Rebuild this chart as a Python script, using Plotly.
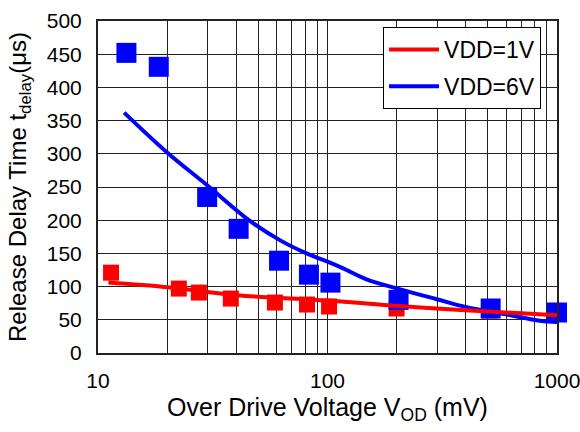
import plotly.graph_objects as go

# Measured data points
vod_6v = [13.3, 18.4, 29.9, 41, 61.5, 83, 103, 204, 514, 1000]
delay_6v = [452, 431, 235, 187, 139, 118, 106, 80, 67, 61]
vod_1v = [11.4, 22.5, 27.5, 37.9, 59, 81.4, 101.6, 200, 510, 1000]
delay_1v = [121, 97, 91, 82, 76, 73, 70, 67, 64, 60]

# Fitted curves
fit_x_6v = [13, 20, 29.9, 45.9, 62, 81, 100, 117, 148, 200, 299, 404, 604, 843, 1000]
fit_y_6v = [362, 302, 252.6, 199, 170, 150, 137.5, 127.5, 111, 97.4, 81, 69, 58, 48.6, 46.7]
fit_x_1v = [11.1, 20, 40.2, 100, 200, 365, 1000]
fit_y_1v = [106, 99, 87, 79, 71, 65, 57]

x_major = [10, 100, 1000]
x_minor = [20, 30, 40, 50, 60, 70, 80, 90, 200, 300, 400, 500, 600, 700, 800, 900]
y_ticks = list(range(0, 501, 50))

FONT = "Liberation Sans, Arial, sans-serif"

fig = go.Figure()
fig.add_trace(go.Scatter(x=vod_1v, y=delay_1v, mode="markers",
                         marker=dict(symbol="square", size=16, color="#ff0000"),
                         showlegend=False, cliponaxis=False))
fig.add_trace(go.Scatter(x=vod_6v, y=delay_6v, mode="markers",
                         marker=dict(symbol="square", size=20, color="#0000ff"),
                         showlegend=False, cliponaxis=False))
fig.add_trace(go.Scatter(x=fit_x_6v, y=fit_y_6v, mode="lines", name="VDD=6V",
                         line=dict(color="#0000ff", width=4, shape="spline"),
                         legendgroup="b", legendrank=2))
fig.add_trace(go.Scatter(x=fit_x_1v, y=fit_y_1v, mode="lines", name="VDD=1V",
                         line=dict(color="#ff0000", width=4, shape="spline"),
                         legendgroup="a", legendrank=1))

fig.update_layout(
    width=580, height=432,
    margin=dict(l=98, r=23, t=21, b=79),
    paper_bgcolor="white", plot_bgcolor="white",
    font=dict(family=FONT, size=21, color="black"),
    legend=dict(x=0.621, y=0.982, xanchor="left", yanchor="top",
                bgcolor="white", bordercolor="black", borderwidth=1,
                font=dict(size=23), tracegroupgap=4, itemwidth=50),
)
fig.update_xaxes(
    type="log", range=[1, 3], automargin=False,
    tickvals=x_major, ticktext=[str(v) for v in x_major],
    ticklabeloverflow="allow",
    showgrid=True, gridcolor="#222222", gridwidth=1,
    minor=dict(tickvals=x_minor, showgrid=True, gridcolor="#222222", gridwidth=1,
               ticks="inside", ticklen=4, tickcolor="#222222"),
    ticks="inside", ticklen=5, tickcolor="#222222",
    showline=True, linecolor="#222222", linewidth=2, mirror=True,
    ticklabelstandoff=8,
    title=dict(text="Over Drive Voltage V<sub>OD</sub> (mV)", font=dict(size=25), standoff=7),
    zeroline=False,
)
fig.update_yaxes(
    range=[0, 500], tickvals=y_ticks, automargin=False,
    showgrid=True, gridcolor="#222222", gridwidth=1,
    ticks="inside", ticklen=5, tickcolor="#222222",
    showline=True, linecolor="#222222", linewidth=2, mirror=True,
    ticklabelstandoff=10,
    title=dict(text="Release Delay Time t<sub>delay</sub>(μs)", font=dict(size=24), standoff=13),
    zeroline=False,
)

fig.write_html("out.html", config={"displayModeBar": False},
               post_script="document.body.style.margin='0';")
